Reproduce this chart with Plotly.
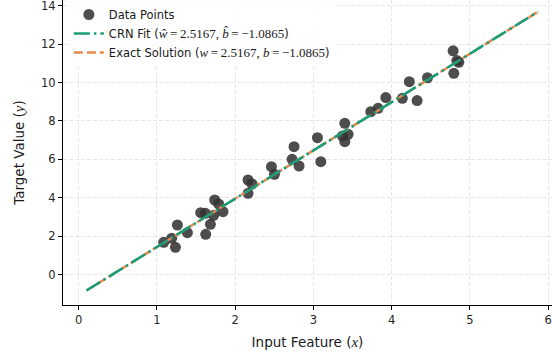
import plotly.graph_objects as go

# ---- data ----
x_points = [1.087, 1.189, 1.237, 1.262, 1.390, 1.560, 1.624, 1.620, 1.684, 1.726,
            1.739, 1.790, 1.845, 2.165, 2.165, 2.216, 2.464, 2.503, 2.753, 2.728,
            2.817, 3.052, 3.095, 3.402, 3.372, 3.444, 3.402, 3.734, 3.827, 3.926,
            4.137, 4.326, 4.226, 4.459, 4.786, 4.859, 4.834, 4.795]
y_points = [1.677, 1.885, 1.417, 2.578, 2.177, 3.219, 2.094, 3.188, 2.615, 3.083,
            3.880, 3.672, 3.271, 4.229, 4.922, 4.714, 5.615, 5.219, 6.656, 6.000,
            5.651, 7.125, 5.875, 7.875, 7.214, 7.302, 6.917, 8.479, 8.656, 9.219,
            9.177, 9.063, 10.042, 10.250, 11.651, 11.052, 11.146, 10.479]

w_fit, b_fit = 2.5167, -1.0865
w_exact, b_exact = 2.5167, -1.0865
line_x = [0.1, 5.87]

x_ticks = [0, 1, 2, 3, 4, 5, 6]
y_ticks = [0, 2, 4, 6, 8, 10, 12, 14]

fit_y = [w_fit * x + b_fit for x in line_x]
exact_y = [w_exact * x + b_exact for x in line_x]

SERIF = "font-family:'Liberation Serif';font-size:13px"

def num(v):
    return f"{v:.4f}".replace("-", "\u2212")

fit_name = (f"CRN Fit (<span style=\"{SERIF}\"><i>\u0175</i>\u2009=\u2009{num(w_fit)}, "
            f"<i>b\u0302</i>\u2009=\u2009{num(b_fit)}</span>)")
exact_name = (f"Exact Solution (<span style=\"{SERIF}\"><i>w</i>\u2009=\u2009{num(w_exact)}, "
              f"<i>b</i>\u2009=\u2009{num(b_exact)}</span>)")

fig = go.Figure()

fig.add_trace(go.Scatter(
    x=x_points, y=y_points, mode="markers", name="Data Points",
    marker=dict(size=11, color="#333333", opacity=0.87, line=dict(width=0)),
    legendrank=1,
))
fig.add_trace(go.Scatter(
    x=line_x, y=exact_y, mode="lines", name=exact_name,
    line=dict(color="#e8874a", width=2.5, dash="9px,4px"),
    legendrank=3,
))
fig.add_trace(go.Scatter(
    x=line_x, y=fit_y, mode="lines", name=fit_name,
    line=dict(color="#1b9e77", width=2.6, dash="16px,4px,2.5px,4px"),
    legendrank=2,
))

axis_common = dict(
    showline=True, linecolor="#000000", linewidth=1.1,
    ticks="outside", ticklen=4, tickwidth=1, tickcolor="#000000",
    showgrid=True, gridcolor="#e6e6e6", gridwidth=0.8, griddash="4px,2px",
    zeroline=False, mirror=False, automargin=False, ticklabeloverflow="allow",
    tickfont=dict(family="DejaVu Sans", size=11.5, color="#262626"),
)

fig.update_layout(
    width=552, height=358,
    margin=dict(l=63, r=0, t=0, b=53),
    paper_bgcolor="white", plot_bgcolor="white",
    font=dict(family="DejaVu Sans", size=11, color="#1a1a1a"),
    xaxis=dict(range=[-0.2, 6.05], tickvals=x_ticks,
               title=dict(text=f"Input Feature (<span style=\"font-family:'Liberation Serif';font-size:15px\"><i>x</i></span>)",
                          font=dict(size=13.5, color="#1a1a1a"), standoff=11),
               **axis_common),
    yaxis=dict(range=[-1.59, 14.3], tickvals=y_ticks,
               title=dict(text=f"Target Value (<span style=\"font-family:'Liberation Serif';font-size:15px\"><i>y</i></span>)",
                          font=dict(size=13.5, color="#1a1a1a"), standoff=13),
               **axis_common),
    legend=dict(x=0.012, y=1.0, xanchor="left", yanchor="top",
                bgcolor="rgba(255,255,255,0.85)", borderwidth=0,
                font=dict(family="DejaVu Sans", size=11.5, color="#1a1a1a"),
                tracegroupgap=0, itemwidth=30),
    showlegend=True,
)

fig.write_html("out.html", config={"displayModeBar": False},
               post_script="document.body.style.margin='0';document.body.style.overflow='hidden';")
